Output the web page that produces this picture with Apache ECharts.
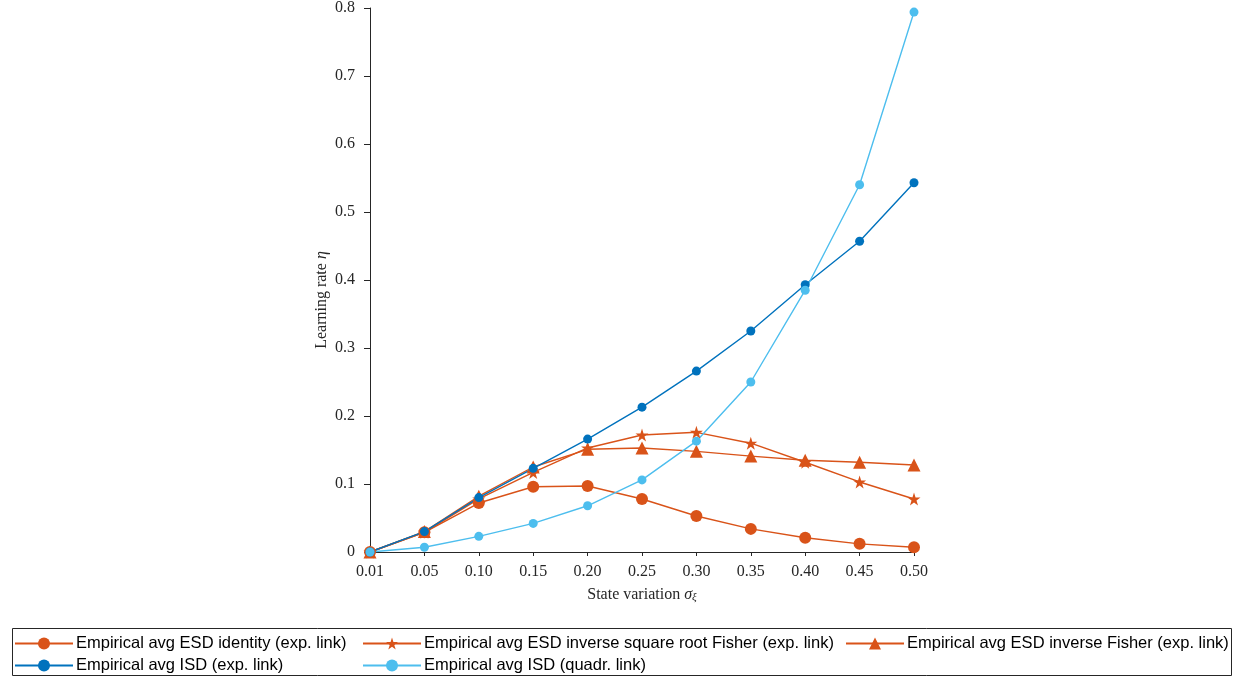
<!DOCTYPE html>
<html><head><meta charset="utf-8">
<script src="https://cdn.jsdelivr.net/npm/echarts@6/dist/echarts.min.js"></script>
<style>html,body{margin:0;padding:0;background:#fff}#c{width:1250px;height:679px}</style>
</head><body><div id="c"></div>
<script>
const categories = ['0.01','0.05','0.10','0.15','0.20','0.25','0.30','0.35','0.40','0.45','0.50'];
const yTicks = [0,0.1,0.2,0.3,0.4,0.5,0.6,0.7,0.8];
const esdIdentity = [0,0.029,0.072,0.096,0.097,0.078,0.053,0.034,0.021,0.012,0.007];
const esdInvSqrtFisher = [0,0.029,0.078,0.117,0.153,0.172,0.176,0.160,0.132,0.103,0.078];
const esdInvFisher = [0,0.030,0.082,0.125,0.151,0.153,0.148,0.141,0.135,0.132,0.128];
const isdExp = [0,0.030,0.080,0.123,0.166,0.213,0.266,0.325,0.393,0.457,0.543];
const isdQuadr = [0,0.007,0.023,0.042,0.068,0.106,0.163,0.250,0.385,0.540,0.794];
const names = [
  'Empirical avg ESD identity (exp. link)',
  'Empirical avg ESD inverse square root Fisher (exp. link)',
  'Empirical avg ESD inverse Fisher (exp. link)',
  'Empirical avg ISD (exp. link)',
  'Empirical avg ISD (quadr. link)'
];
const orange = '#D95319', blue = '#0072BD', lblue = '#4DBEEE';
const star = 'path://M50,0 L61.8,36.2 L100,36.2 L69.1,58.6 L80.9,95.1 L50,72.7 L19.1,95.1 L30.9,58.6 L0,36.2 L38.2,36.2 Z';
function mk(name, data, color, symbol, size) {
  return {name, type:'line', data, symbol, symbolSize:size, showSymbol:true,
    itemStyle:{color}, lineStyle:{color, width:1.4}, emphasis:{disabled:true}, animation:false};
}
const serif = '"Liberation Serif","DejaVu Serif",serif';
const legendBase = {orient:'vertical', itemWidth:58, itemHeight:15, itemGap:5,
  textStyle:{fontFamily:'"Liberation Sans",Arial,sans-serif', fontSize:16.5, color:'#000', padding:[0,0,0,-2]},
  top:635, padding:0};
const chart = echarts.init(document.getElementById('c'), null, {renderer:'canvas'});
chart.setOption({
  animation:false,
  grid:{left:370, right:336, top:8, bottom:127, containLabel:false},
  xAxis:{type:'category', data:categories, boundaryGap:false,
    axisLine:{lineStyle:{color:'#262626', width:1}},
    axisTick:{show:true, length:4, lineStyle:{color:'#262626'}},
    axisLabel:{fontFamily:serif, fontSize:16, color:'#262626', margin:12},
    name:'{n|State variation }{s|σ}{sub|ξ}', nameLocation:'middle', nameGap:34,
    nameTextStyle:{rich:{n:{fontFamily:serif, fontSize:16, color:'#262626'},
      s:{fontFamily:serif, fontSize:16, fontStyle:'italic', color:'#262626'},
      sub:{fontFamily:serif, fontSize:11, fontStyle:'italic', color:'#262626', verticalAlign:'bottom', padding:[6,0,0,0]}}},
    splitLine:{show:false}},
  yAxis:{type:'value', min:0, max:0.8, interval:0.1,
    axisLine:{show:true, lineStyle:{color:'#262626', width:1}},
    axisTick:{show:true, length:6, lineStyle:{color:'#262626'}},
    axisLabel:{fontFamily:serif, fontSize:16, color:'#262626', margin:15,
      formatter:v=>{const t=yTicks.find(x=>Math.abs(x-v)<1e-9); return t===0?'0':(t!==undefined?t.toFixed(1):'');}},
    splitLine:{show:false},
    name:'{n|Learning rate }{s|η}', nameLocation:'middle', nameGap:40,
    nameTextStyle:{padding:[0,40,0,0], rich:{n:{fontFamily:serif, fontSize:16, color:'#262626'},
      s:{fontFamily:serif, fontSize:16, fontStyle:'italic', color:'#262626'}}}},
  legend:[
    Object.assign({}, legendBase, {left:14, data:[names[0], names[3]]}),
    Object.assign({}, legendBase, {left:362, data:[names[1], names[4]]}),
    Object.assign({}, legendBase, {left:845, data:[names[2]]})
  ],
  graphic:[{type:'rect', shape:{x:12.5, y:628.5, width:1219, height:47},
    style:{fill:'none', stroke:'#262626', lineWidth:1}, silent:true}],
  series:[
    mk(names[0], esdIdentity, orange, 'circle', 12),
    mk(names[1], esdInvSqrtFisher, orange, star, 13),
    mk(names[2], esdInvFisher, orange, 'triangle', 13),
    mk(names[3], isdExp, blue, 'circle', 9),
    mk(names[4], isdQuadr, lblue, 'circle', 9)
  ]
});
</script></body></html>
